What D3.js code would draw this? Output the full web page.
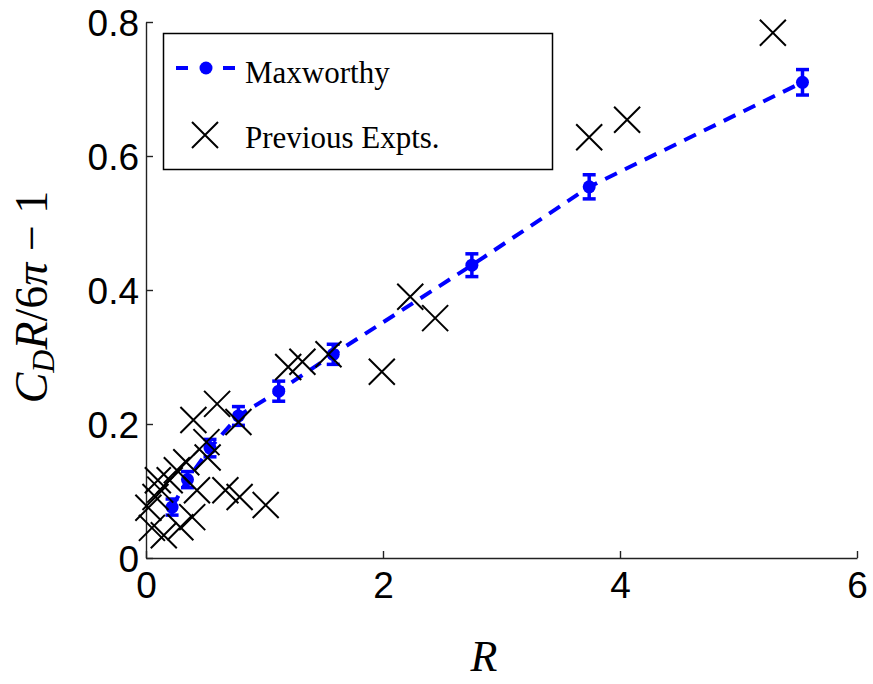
<!DOCTYPE html>
<html>
<head>
<meta charset="utf-8">
<script src="https://cdn.jsdelivr.net/npm/d3@7"></script>
<style>
  body { margin: 0; background: #fff; }
  .tick text { font-family: 'Liberation Sans', Arial, sans-serif; }
  .label { font-family: 'Liberation Serif', 'Times New Roman', serif; }
</style>
</head>
<body>
<svg id="canvas"></svg>
<script>
// Maxworthy data (with error bars)
var maxR = [0.22, 0.35, 0.54, 0.78, 1.12, 1.58, 2.75, 3.74, 5.54];
var maxY = [0.076, 0.117, 0.164, 0.212, 0.249, 0.304, 0.437, 0.554, 0.710];
var maxErr = [0.012, 0.012, 0.013, 0.014, 0.015, 0.015, 0.017, 0.018, 0.019];

// Previous experiments
var prevR = [0.02, 0.05, 0.08, 0.10, 0.12, 0.15, 0.20, 0.26, 0.29, 0.34, 0.39, 0.40, 0.43,
  0.51, 0.52, 0.60, 0.67, 0.78, 0.79, 1.01, 1.20, 1.32, 1.54, 1.99, 2.23, 2.44, 3.74, 4.06, 5.29];
var prevY = [0.075, 0.045, 0.091, 0.116, 0.102, 0.034, 0.116, 0.131, 0.046, 0.143, 0.061, 0.206, 0.101,
  0.173, 0.150, 0.230, 0.101, 0.203, 0.091, 0.079, 0.285, 0.293, 0.304, 0.278, 0.390, 0.358, 0.628, 0.654, 0.784];

// Axis ticks
var xTicks = [0, 2, 4, 6];
var yTicks = [0, 0.2, 0.4, 0.6, 0.8];

var canvasWidth = 873;
var canvasHeight = 684;
var margin = { top: 22, right: 16, bottom: 126, left: 146 };

var blue = '#0000ff';

var maxData = maxR.map(function(r, i) {
  return { r: r, y: maxY[i], err: maxErr[i] };
});
var prevData = prevR.map(function(r, i) {
  return { r: r, y: prevY[i] };
});

var svg = d3.select('#canvas')
  .attr('width', canvasWidth)
  .attr('height', canvasHeight);

// Scales
var xScale = d3.scaleLinear()
  .domain([0, 6])
  .range([margin.left, canvasWidth - margin.right]);

var yScale = d3.scaleLinear()
  .domain([0, 0.8])
  .range([canvasHeight - margin.bottom, margin.top]);

// Axes
var xAxis = d3.axisBottom(xScale)
  .tickValues(xTicks)
  .tickFormat(d3.format('~g'))
  .tickSizeInner(-7)
  .tickSizeOuter(0)
  .tickPadding(14);

var yAxis = d3.axisLeft(yScale)
  .tickValues(yTicks)
  .tickFormat(d3.format('~g'))
  .tickSizeInner(-7)
  .tickSizeOuter(0)
  .tickPadding(7);

var gx = svg.append('g')
  .attr('class', 'x-axis')
  .attr('transform', 'translate(0,' + (canvasHeight - margin.bottom) + ')')
  .call(xAxis);

var gy = svg.append('g')
  .attr('class', 'y-axis')
  .attr('transform', 'translate(' + margin.left + ',0)')
  .call(yAxis);

svg.selectAll('.domain, .tick line')
  .attr('stroke', '#222')
  .attr('stroke-width', 1.4);

svg.selectAll('.tick text')
  .attr('fill', '#000')
  .attr('font-size', 37);

gy.selectAll('.tick text').attr('dy', '0.36em');
gx.selectAll('.tick text').attr('dy', '0.71em');

// Maxworthy dashed line
var line = d3.line()
  .x(function(d) { return xScale(d.r); })
  .y(function(d) { return yScale(d.y); });

svg.append('path')
  .datum(maxData)
  .attr('d', line)
  .attr('fill', 'none')
  .attr('stroke', blue)
  .attr('stroke-width', 4)
  .attr('stroke-dasharray', '13 9');

// Error bars
var errBars = svg.append('g')
  .classed('errbars', true)
  .selectAll('g')
  .data(maxData)
  .enter()
  .append('g')
  .attr('stroke', blue)
  .attr('stroke-width', 3.5);

errBars.append('line')
  .attr('x1', function(d) { return xScale(d.r); })
  .attr('x2', function(d) { return xScale(d.r); })
  .attr('y1', function(d) { return yScale(d.y - d.err); })
  .attr('y2', function(d) { return yScale(d.y + d.err); });

[1, -1].forEach(function(s) {
  errBars.append('line')
    .attr('x1', function(d) { return xScale(d.r) - 6.5; })
    .attr('x2', function(d) { return xScale(d.r) + 6.5; })
    .attr('y1', function(d) { return yScale(d.y + s * d.err); })
    .attr('y2', function(d) { return yScale(d.y + s * d.err); });
});

svg.append('g')
  .selectAll('circle')
  .data(maxData)
  .enter()
  .append('circle')
  .attr('cx', function(d) { return xScale(d.r); })
  .attr('cy', function(d) { return yScale(d.y); })
  .attr('r', 6.5)
  .attr('fill', blue);

// Previous experiments crosses
var cross = 13;
function crossPath(x, y) {
  return 'M' + (x - cross) + ',' + (y - cross) + 'L' + (x + cross) + ',' + (y + cross) +
    'M' + (x - cross) + ',' + (y + cross) + 'L' + (x + cross) + ',' + (y - cross);
}

svg.append('g')
  .selectAll('path')
  .data(prevData)
  .enter()
  .append('path')
  .attr('d', function(d) { return crossPath(xScale(d.r), yScale(d.y)); })
  .attr('stroke', '#000')
  .attr('stroke-width', 2)
  .attr('fill', 'none');

// Legend
var legend = svg.append('g').classed('legend', true);

legend.append('rect')
  .attr('x', 163.5)
  .attr('y', 33.5)
  .attr('width', 389)
  .attr('height', 136)
  .attr('fill', '#fff')
  .attr('stroke', '#000')
  .attr('stroke-width', 1.5);

legend.append('line')
  .attr('x1', 176).attr('x2', 235)
  .attr('y1', 68).attr('y2', 68)
  .attr('stroke', blue)
  .attr('stroke-width', 4)
  .attr('stroke-dasharray', '12 35');

legend.append('circle')
  .attr('cx', 206).attr('cy', 68).attr('r', 6.5)
  .attr('fill', blue);

legend.append('path')
  .attr('d', crossPath(205, 135))
  .attr('stroke', '#000')
  .attr('stroke-width', 2)
  .attr('fill', 'none');

legend.append('text')
  .classed('label', true)
  .attr('x', 245).attr('y', 83)
  .attr('font-size', 31)
  .text('Maxworthy');

legend.append('text')
  .classed('label', true)
  .attr('x', 245).attr('y', 148)
  .attr('font-size', 31)
  .text('Previous Expts.');

// Axis labels
svg.append('text')
  .classed('label', true)
  .attr('x', 484)
  .attr('y', 671)
  .attr('text-anchor', 'middle')
  .attr('font-size', 44)
  .attr('font-style', 'italic')
  .text('R');

var yLabel = svg.append('text')
  .classed('label', true)
  .attr('transform', 'translate(47,297) rotate(-90)')
  .attr('text-anchor', 'middle')
  .attr('font-size', 46);

yLabel.append('tspan').attr('font-style', 'italic').text('C');
yLabel.append('tspan').attr('font-style', 'italic').attr('font-size', 32).attr('dy', 7).text('D');
yLabel.append('tspan').attr('font-style', 'italic').attr('dy', -7).text('R');
yLabel.append('tspan').text('/6');
yLabel.append('tspan').attr('font-style', 'italic').text('π');
yLabel.append('tspan').text(' − 1');
</script>
</body>
</html>
